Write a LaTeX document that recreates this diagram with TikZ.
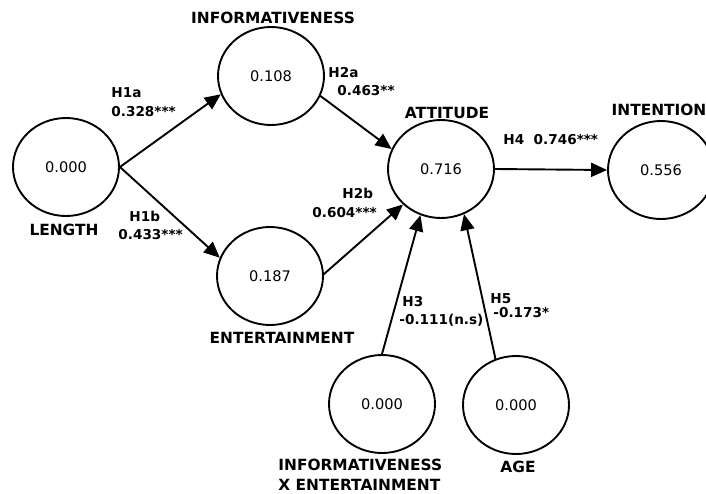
\documentclass[tikz,border=0pt]{standalone}
\usepackage{fontspec}
\setmainfont{DejaVu Sans}
\usetikzlibrary{shapes.geometric,arrows.meta}
\begin{document}
\begin{tikzpicture}[x=0.5pt,y=-0.5pt,
  lv/.style={ellipse,draw,line width=0.95pt,minimum width=53pt,minimum height=49pt,inner sep=0pt,font=\fontsize{7.3}{8}\selectfont},
  captxt/.style={font=\bfseries\fontsize{7.7}{9}\selectfont,inner sep=0pt},
  elab/.style={font=\bfseries\fontsize{6.8}{8}\selectfont,inner sep=0pt,anchor=west},
  pth/.style={line width=0.95pt,-{Triangle[length=8pt,width=7pt]}}]
\clip (0,0) rectangle (706,493);
\useasboundingbox (0,0) rectangle (706,493);
\node[lv] (len) at (66,167) {0.000};
\node[lv] (info) at (271,76) {0.108};
\node[lv] (ent) at (270,276) {0.187};
\node[lv] (att) at (441,169) {0.716};
\node[lv] (int) at (661,170) {0.556};
\node[lv] (ixe) at (382,404) {0.000};
\node[lv] (age) at (516,405) {0.000};
% construct labels
\node[captxt] (tinfo) at (273,18) {INFORMATIVENESS};
\node[captxt] (tlen) at (64,230) {LENGTH};
\node[captxt] (tatt) at (447,113) {ATTITUDE};
\node[captxt] (tint) at (659,110) {INTENTION};
\node[captxt] (tent) at (282,338) {ENTERTAINMENT};
\node[captxt,align=left,anchor=west] (tixe) at (278,475) {INFORMATIVENESS\\[1pt]X ENTERTAINMENT};
\node[captxt] (tage) at (518,467) {AGE};
% paths
\draw[pth] (len.east) -- (info.200);
\draw[pth] (len.east) -- (ent.160);
\draw[pth] (info.-22) -- (att.158);
\draw[pth] (ent.2) -- (att.223);
\draw[pth] (att.east) -- (int.west);
\draw[pth] (ixe.north) -- (att.-114);
\draw[pth] (age.114) -- (att.-63);
% path labels
\node[elab] (h1a) at (111,93) {H1a};
\node[elab] (c1a) at (111,112) {0.328***};
\node[elab] (h1b) at (129,216) {H1b};
\node[elab] (c1b) at (118,235) {0.433***};
\node[elab] (h2a) at (328,73) {H2a};
\node[elab] (c2a) at (337,91) {0.463**};
\node[elab] (h2b) at (342,193) {H2b};
\node[elab] (c2b) at (312,213) {0.604***};
\node[elab] (h4) at (503,140) {H4\ \ 0.746***};
\node[elab] (h3) at (402,302) {H3};
\node[elab] (c3) at (399,320) {-0.111(n.s)};
\node[elab] (h5) at (490,299) {H5};
\node[elab] (c5) at (493,313) {-0.173*};
\end{tikzpicture}
\end{document}
